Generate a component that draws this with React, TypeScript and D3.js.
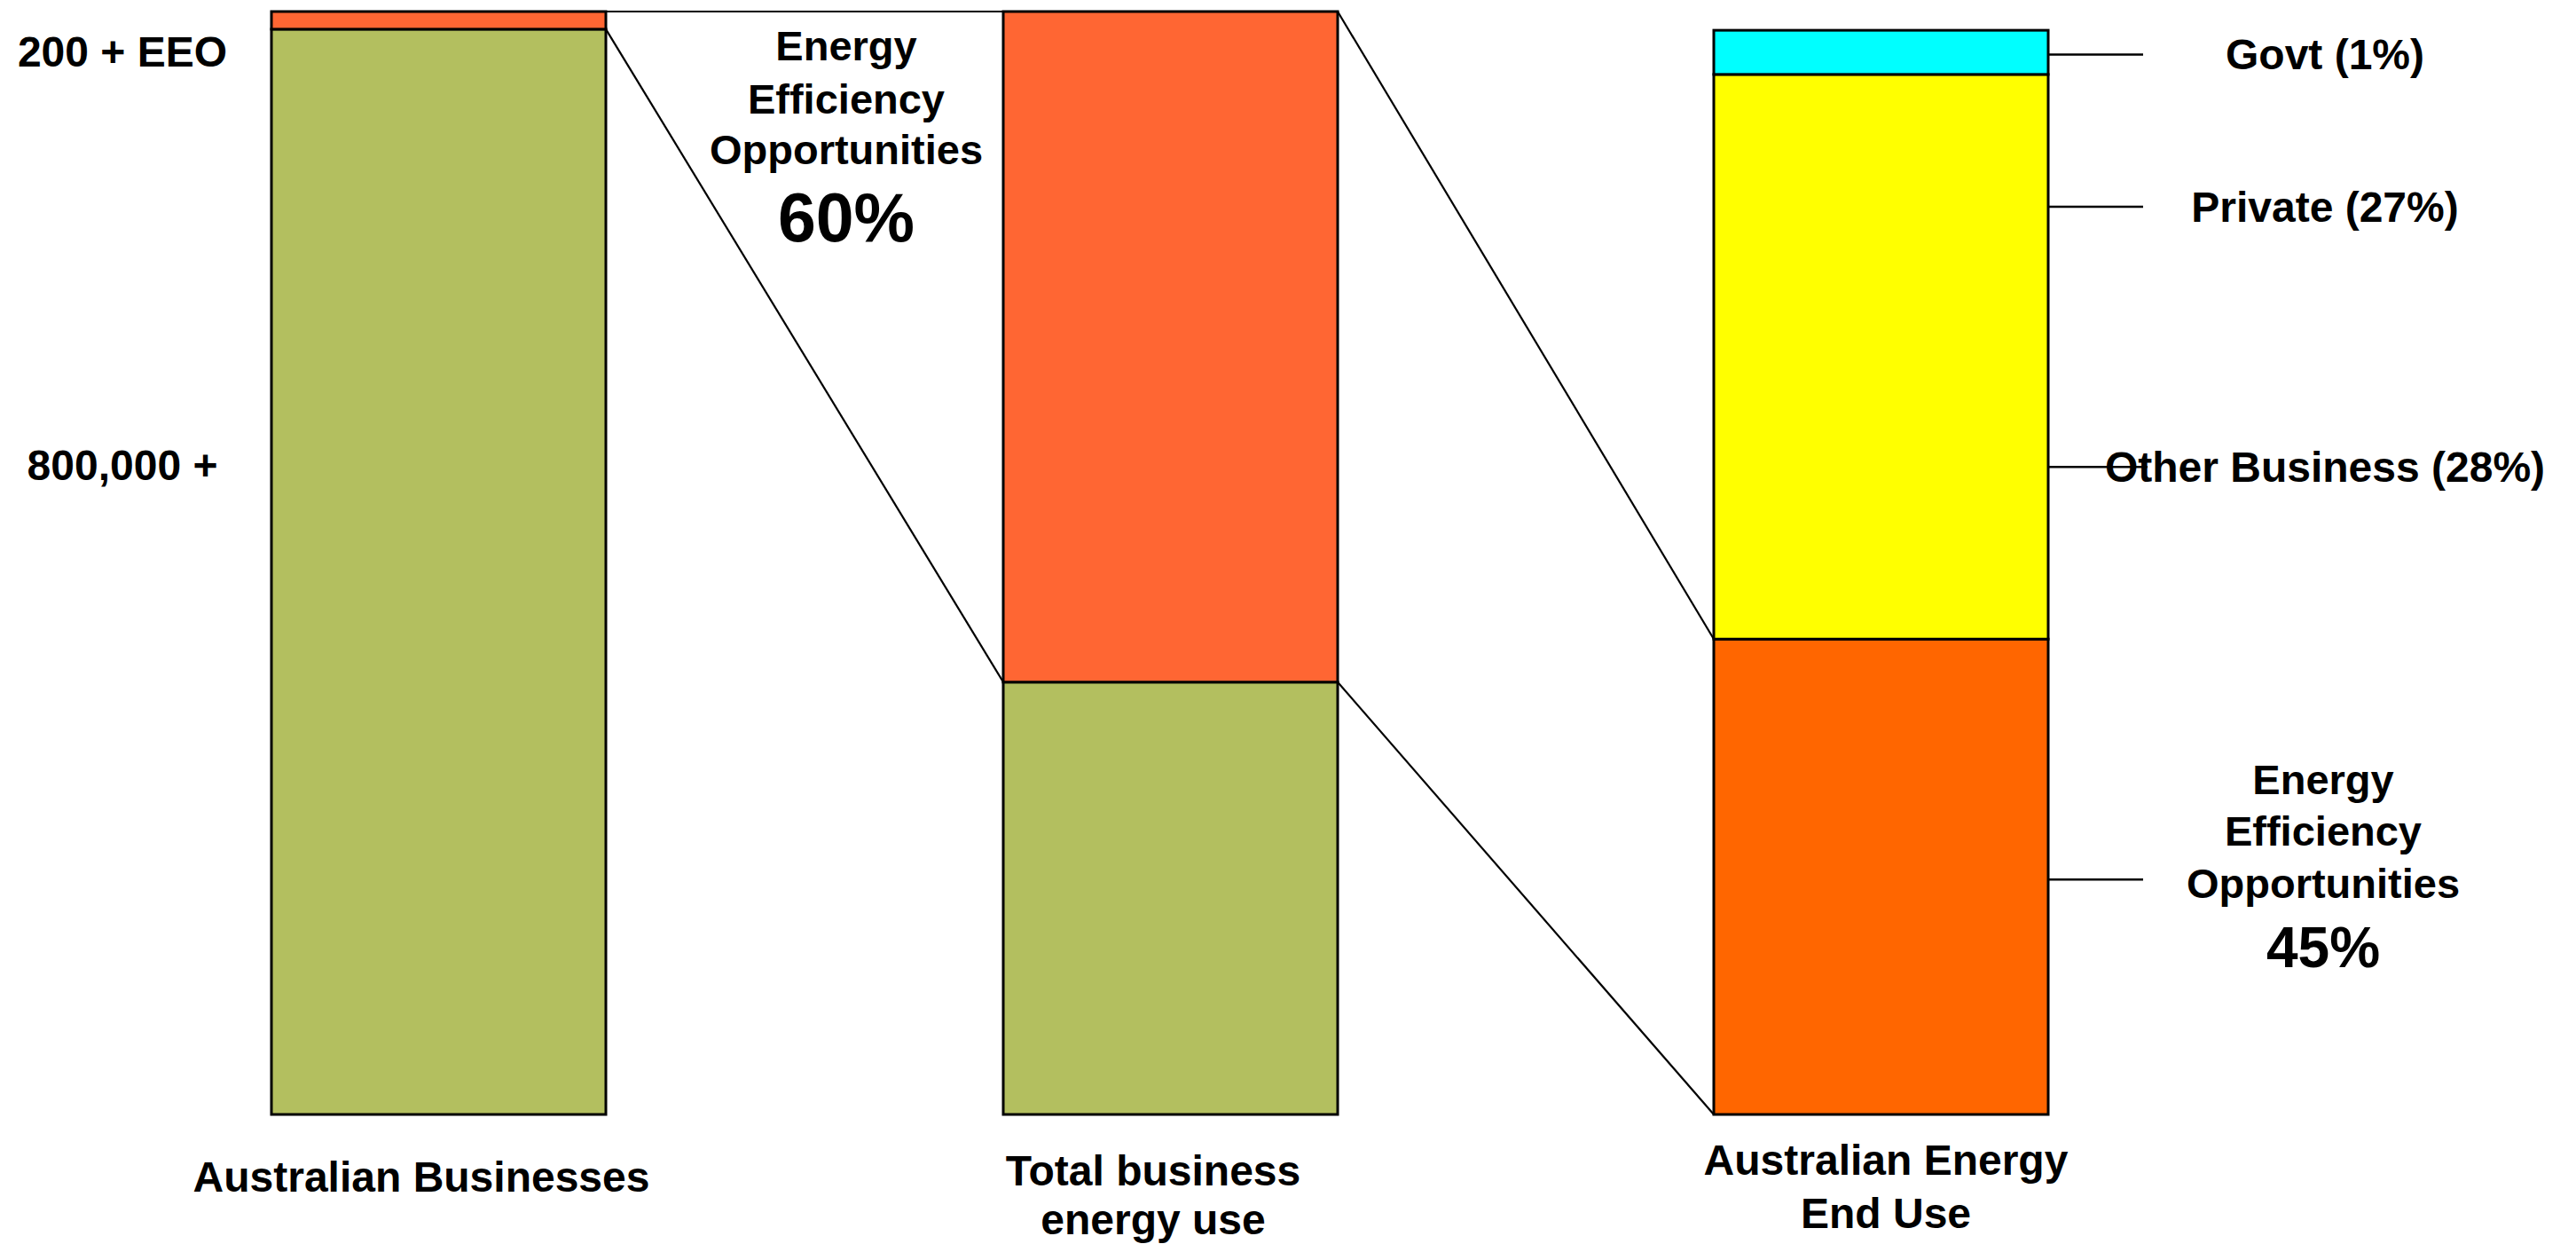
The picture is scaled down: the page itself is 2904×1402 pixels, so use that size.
import React from "react";
import * as d3 from "d3";

const W = 2904;
const H = 1402;

// categories (bars)
const categories = ["Australian Businesses", "Total business energy use", "Australian Energy End Use"];
const categoryLines = [["Australian Businesses"], ["Total business", "energy use"], ["Australian Energy", "End Use"]];

// stacked shares (bottom to top) (percent of full bar height)
const businessShares = [98.4, 1.6]; // other businesses, EEO businesses
const businessColors = ["#B3BF5F", "#FF6633"];
const energyShares = [39.2, 60.8]; // other business energy, EEO energy
const energyColors = ["#B3BF5F", "#FF6633"];
const endUseShares = [43.1, 51.2, 4.0]; // EEO, private + other business, govt
const endUseColors = ["#FF6600", "#FFFF00", "#00FFFF"];

// left-hand tick labels and their positions (value on the same scale)
const leftLabels = ["200 + EEO", "800,000 +"];
const leftLabelValues = [96.4, 58.9];

// right-hand labels with leader values
const rightLabels = [["Govt (1%)"], ["Private (27%)"], ["Other Business (28%)"], ["Energy", "Efficiency", "Opportunities", "45%"]];
const rightLeaderValues = [96.1, 82.3, 58.7, 21.3];

// middle annotation
const middleLabel = ["Energy", "Efficiency", "Opportunities", "60%"];

const FONT = "'Liberation Sans', Arial, sans-serif";

function stackOf(values: number[]) {
  let acc = 0;
  return values.map((v) => {
    const s = { y0: acc, y1: acc + v };
    acc += v;
    return s;
  });
}

export default function App() {
  // bar left edges (the bars are not evenly spaced in the original)
  const x = d3.scaleOrdinal<string, number>().domain(categories).range([306, 1131, 1932]);
  const y = d3.scaleLinear().domain([0, 100]).range([1256, 13]);
  const bw = 377;

  const bars = [
    { cat: categories[0], segs: stackOf(businessShares), colors: businessColors },
    { cat: categories[1], segs: stackOf(energyShares), colors: energyColors },
    { cat: categories[2], segs: stackOf(endUseShares), colors: endUseColors },
  ];

  const x0 = (i: number) => x(categories[i]);
  const x1 = (i: number) => x(categories[i]) + bw;

  const b1 = bars[0].segs;
  const b2 = bars[1].segs;
  const b3 = bars[2].segs;
  const line = d3.line<[number, number]>();
  const connectors: [number, number][][] = [
    [[x1(0), y(b1[1].y1)], [x0(1), y(b2[1].y1)]],
    [[x1(0), y(b1[1].y0)], [x0(1), y(b2[1].y0)]],
    [[x1(1), y(b2[1].y1)], [x0(2), y(b3[0].y1)]],
    [[x1(1), y(b2[1].y0)], [x0(2), y(b3[0].y0)]],
  ];

  const labelCenters = [475, 1300, 2126];
  const labelBaselines = [[1343], [1336, 1391], [1324, 1384]];

  return (
    <svg
      width={W}
      height={H}
      style={{ position: "absolute", left: 0, top: 0, background: "#fff" }}
      fontFamily={FONT}
      fontWeight="bold"
    >
      <rect x={0} y={0} width={W} height={H} fill="#fff" />
      {connectors.map((c, i) => (
        <path key={i} d={line(c) as string} stroke="#000" strokeWidth={2.2} fill="none" />
      ))}
      {bars.map((b, bi) =>
        b.segs.map((s, si) => (
          <rect
            key={bi + "-" + si}
            x={x(b.cat)}
            y={y(s.y1)}
            width={bw}
            height={y(s.y0) - y(s.y1)}
            fill={b.colors[si]}
            stroke="#000"
            strokeWidth={3}
          />
        ))
      )}
      {/* left labels */}
      {leftLabels.map((t, i) => (
        <text key={t} x={138} y={y(leftLabelValues[i]) + 17} textAnchor="middle" fontSize={48} fill="#000">
          {t}
        </text>
      ))}
      {/* middle annotation */}
      {middleLabel.map((t, i) => (
        <text
          key={t}
          x={954}
          y={[68, 128, 185, 272][i]}
          textAnchor="middle"
          fontSize={i === 3 ? 77 : 47}
          fill="#000"
        >
          {t}
        </text>
      ))}
      {/* right leaders and labels */}
      {rightLeaderValues.map((v, i) => (
        <line
          key={"l" + i}
          x1={x1(2)}
          x2={x1(2) + (i === 2 ? 112 : 107)}
          y1={y(v)}
          y2={y(v)}
          stroke="#000"
          strokeWidth={2.5}
        />
      ))}
      {rightLabels.slice(0, 3).map((lines, i) => (
        <text
          key={"r" + i}
          x={2621}
          y={y(rightLeaderValues[i]) + 17}
          textAnchor="middle"
          fontSize={48}
          fill="#000"
        >
          {lines[0]}
        </text>
      ))}
      {rightLabels[3].map((t, i) => (
        <text
          key={"e" + i}
          x={2619}
          y={[895, 953, 1012, 1090][i]}
          textAnchor="middle"
          fontSize={i === 3 ? 64 : 47}
          fill="#000"
        >
          {t}
        </text>
      ))}
      {/* category labels */}
      {categoryLines.map((lines, i) =>
        lines.map((t, j) => (
          <text key={i + "-" + j} x={labelCenters[i]} y={labelBaselines[i][j]} textAnchor="middle" fontSize={48} fill="#000">
            {t}
          </text>
        ))
      )}
    </svg>
  );
}
